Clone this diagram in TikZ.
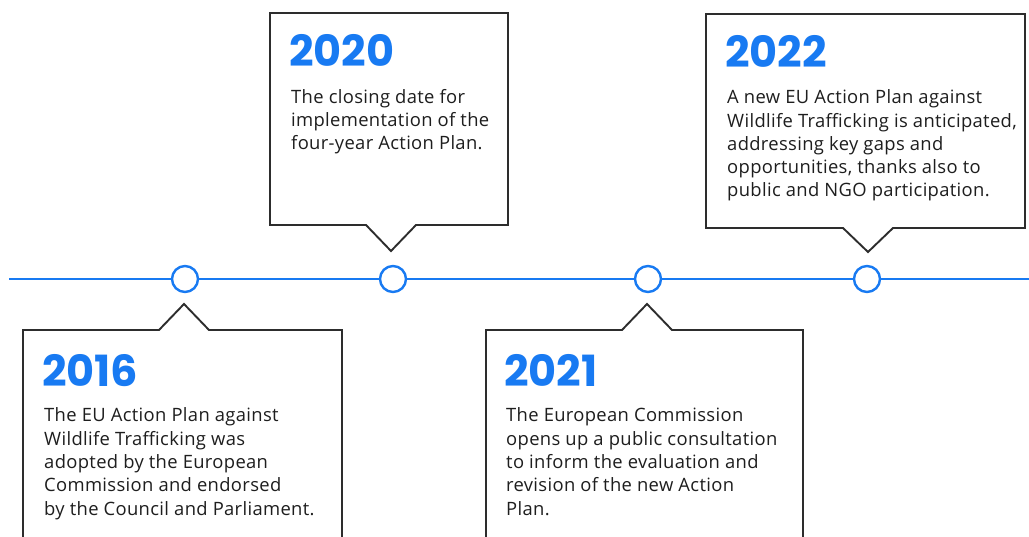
\documentclass[tikz,border=0pt]{standalone}
\usepackage{fontspec}
\setmainfont{Open Sans}[LetterSpace=1.8]
\newfontfamily\yearfont{Poppins}
\definecolor{tlblue}{RGB}{24,122,242}
\definecolor{boxline}{RGB}{45,45,45}
\definecolor{bodytext}{RGB}{30,30,30}
\tikzset{
  tlline/.style={draw=tlblue, line width=2pt},
  dot/.style={circle, draw=tlblue, line width=2.4pt, fill=white, minimum size=26pt, inner sep=0pt},
  callout/.style={draw=boxline, line width=1.9pt, line join=miter, fill=white},
  year/.style={anchor=base west, inner sep=0pt, text=tlblue, font=\yearfont\bfseries\fontsize{43}{45}\selectfont},
  body/.style={anchor=base west, inner sep=0pt, align=left, text=bodytext, font=\fontsize{18.4}{23.3}\selectfont}
}
\begin{document}
\begin{tikzpicture}[x=1pt,y=-1pt]
\useasboundingbox (0,0) rectangle (1029,537);
\fill[white] (0,0) rectangle (1029,537);

% callout boxes (the lower two run off the bottom edge)
\draw[callout] (23,545) -- (23,330) -- (159,330) -- (184,304) -- (209,330) -- (342,330) -- (342,545);
\draw[callout] (270,13) -- (508,13) -- (508,225) -- (416,225) -- (391,251) -- (366,225) -- (270,225) -- cycle;
\draw[callout] (486,545) -- (486,330) -- (622,330) -- (647,304) -- (672,330) -- (803,330) -- (803,545);
\draw[callout] (706,14) -- (1025,14) -- (1025,228) -- (893,228) -- (868,252) -- (843,228) -- (706,228) -- cycle;

% timeline with its four milestones
\coordinate (tlstart) at (9,279);
\coordinate (tlend) at (1029,279);
\node[dot] (d16) at (185,279) {};
\node[dot] (d20) at (393,279) {};
\node[dot] (d21) at (648,279) {};
\node[dot] (d22) at (867,279) {};
\draw[tlline] (tlstart) -- (d16) -- (d20) -- (d21) -- (d22) -- (tlend);

% texts (body nodes are placed by the baseline of their last line)
\node[year] (y16) at (42,387) {2016};
\node[body] (t16) at (44,515) {The EU Action Plan against\\Wildlife Trafficking was\\adopted by the European\\Commission and endorsed\\by the Council and Parliament.};

\node[year] (y20) at (289,67) {2020};
\node[body] (t20) at (291,150) {The closing date for\\implementation of the\\four-year Action Plan.};

\node[year] (y21) at (504,387) {2021};
\node[body] (t21) at (506,515) {The European Commission\\opens up a public consultation\\to inform the evaluation and\\revision of the new Action\\Plan.};

\node[year] (y22) at (725,68) {2022};
\node[body] (t22) at (727,197) {A new EU Action Plan against\\Wildlife Trafficking is anticipated,\\addressing key gaps and\\opportunities, thanks also to\\public and NGO participation.};
\end{tikzpicture}
\end{document}
